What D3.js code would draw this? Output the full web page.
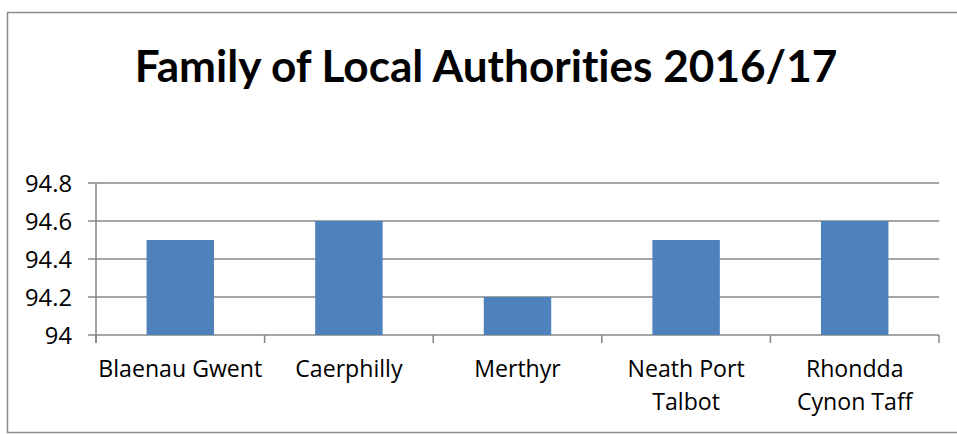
<!DOCTYPE html>
<html><head><meta charset="utf-8">
<script src="https://cdn.jsdelivr.net/npm/d3@7"></script>
<style>html,body{margin:0;padding:0;background:#fff;} svg{display:block;} text{font-variant-ligatures:none;}</style>
</head><body>
<svg id="c" width="957" height="434"></svg>
<script>
const title = "Family of Local Authorities 2016/17";
const categories = ["Blaenau Gwent", "Caerphilly", "Merthyr", "Neath Port Talbot", "Rhondda Cynon Taff"];
const tickLabels = [["Blaenau Gwent"], ["Caerphilly"], ["Merthyr"], ["Neath Port", "Talbot"], ["Rhondda", "Cynon Taff"]];
const values = [94.5, 94.6, 94.2, 94.5, 94.6];
const yTicks = [94, 94.2, 94.4, 94.6, 94.8];

const svg = d3.select("#c");
const font = "Lato, 'Open Sans', sans-serif";
const lfont = "'Open Sans', Lato, sans-serif";
const W = 957, H = 434;
const m = {left: 96, right: 939, top: 183, bottom: 335};

function fitSize(text, family, weight, target) {
  const tmp = svg.append("text").attr("font-family", family).attr("font-weight", weight)
    .attr("font-size", 20).text(text);
  const w = tmp.node().getComputedTextLength();
  tmp.remove();
  return 20 * target / w;
}

// outer frame
svg.append("rect").attr("x", 7.5).attr("y", 12.5).attr("width", W + 20).attr("height", H - 14)
  .attr("fill", "#fff").attr("stroke", "#8c8c8c").attr("stroke-width", 1.5);

const x = d3.scaleBand().domain(categories).range([m.left, m.right]).paddingInner(0.6).paddingOuter(0.3);
const y = d3.scaleLinear().domain([94, 94.8]).range([m.bottom, m.top]);

// gridlines
svg.append("g").selectAll("line").data(yTicks).join("line")
  .attr("x1", m.left - 8).attr("x2", m.right)
  .attr("y1", d => y(d)).attr("y2", d => y(d))
  .attr("stroke", "#878787").attr("stroke-width", 1.5);

// y axis line
svg.append("line").attr("x1", m.left).attr("x2", m.left).attr("y1", m.top).attr("y2", m.bottom + 8)
  .attr("stroke", "#878787").attr("stroke-width", 1.5);

// bars
svg.append("g").selectAll("rect").data(categories).join("rect")
  .attr("x", d => x(d)).attr("width", x.bandwidth())
  .attr("y", (d, i) => y(values[i])).attr("height", (d, i) => y(94) - y(values[i]))
  .attr("fill", "#4F81BD");

// x ticks
const step = (m.right - m.left) / categories.length;
const xTickPos = d3.range(categories.length + 1).map(i => m.left + i * step);
svg.append("g").selectAll("line").data(xTickPos).join("line")
  .attr("x1", d => d).attr("x2", d => d).attr("y1", m.bottom).attr("y2", m.bottom + 8)
  .attr("stroke", "#878787").attr("stroke-width", 1.5);

const ySize = fitSize("94.8", lfont, "normal", 47);
const xSize = fitSize("Blaenau Gwent", lfont, "normal", 164);

// y labels
svg.append("g").selectAll("text").data(yTicks).join("text")
  .attr("x", 72).attr("y", d => y(d)).attr("dy", "0.36em").attr("text-anchor", "end")
  .attr("font-family", lfont).attr("font-size", ySize).attr("fill", "#000")
  .text(d => d3.format("")(d));

// x labels
const xl = svg.append("g").selectAll("text").data(categories).join("text")
  .attr("x", d => x(d) + x.bandwidth() / 2).attr("y", 377)
  .attr("text-anchor", "middle").attr("font-family", lfont).attr("font-size", xSize).attr("fill", "#000");
xl.each(function(d, i) {
  d3.select(this).selectAll("tspan").data(tickLabels[i]).join("tspan")
    .attr("x", x(d) + x.bandwidth() / 2).attr("dy", (t, j) => j === 0 ? 0 : 33).text(t => t);
});

// title
const tSize = fitSize(title, font, "bold", 703);
svg.append("text").attr("x", 486).attr("y", 82).attr("text-anchor", "middle")
  .attr("font-family", font).attr("font-weight", "bold").attr("font-size", tSize).attr("fill", "#000")
  .text(title);
</script>
</body></html>
